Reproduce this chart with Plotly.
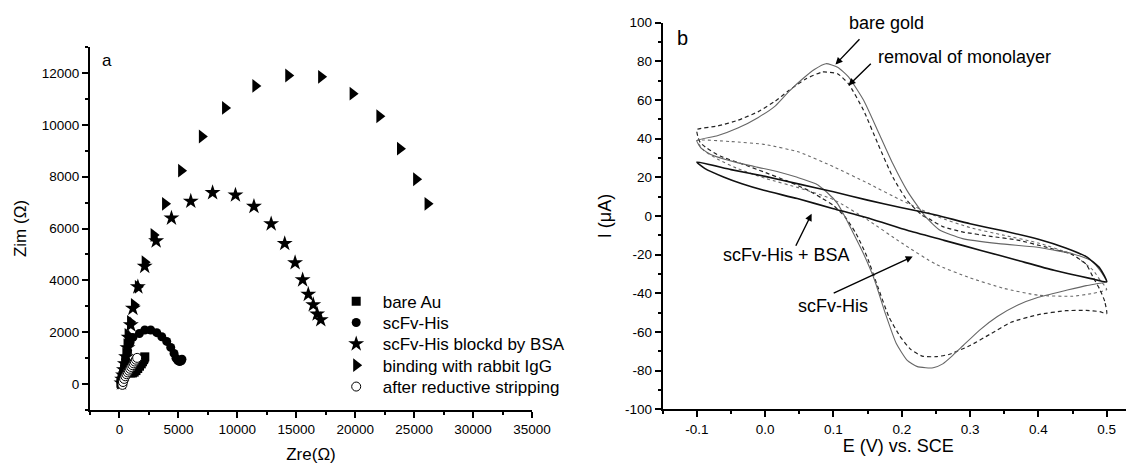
import plotly.graph_objects as go

# ---------------- Panel a: Nyquist plot ----------------
bare_au_x = [120, 160, 220, 300, 400, 520, 650, 800, 950, 1100, 1250, 1400, 1550, 1700, 1850, 1950, 2050, 2100, 2150]
bare_au_y = [30, 120, 230, 330, 400, 440, 450, 440, 430, 430, 460, 520, 600, 690, 780, 860, 940, 1000, 1050]

scfv_x = [150, 200, 260, 330, 420, 520, 690, 900, 1140, 1690, 2150, 2650, 3165, 3590, 4010, 4350, 4630, 4800, 4950, 5100, 5250, 5300]
scfv_y = [50, 150, 300, 480, 700, 950, 1290, 1600, 1800, 1950, 2086, 2086, 1982, 1827, 1646, 1414, 1182, 1000, 910, 870, 900, 960]

bsa_x = [170, 230, 300, 380, 460, 560, 680, 780, 960, 1140, 1560, 2140, 3110, 4410, 6050, 7900, 9840, 11410, 12870, 14020, 14900, 15540, 16020, 16440, 16770, 17080]
bsa_y = [40, 180, 350, 550, 780, 1050, 1400, 1800, 2280, 2920, 3750, 4540, 5520, 6400, 7050, 7380, 7290, 6850, 6180, 5420, 4680, 4020, 3460, 3060, 2700, 2480]

igg_x = [150, 200, 260, 330, 410, 500, 600, 690, 900, 1230, 1560, 2140, 2900, 3870, 5230, 6990, 8960, 11530, 14320, 17110, 19780, 22050, 23800, 25170, 26140]
igg_y = [60, 200, 380, 600, 850, 1150, 1500, 1900, 2400, 3050, 3750, 4700, 5750, 6950, 8230, 9550, 10650, 11500, 11900, 11850, 11200, 10330, 9080, 7900, 6950]

strip_x = [250, 300, 400, 500, 600, 700, 800, 900, 1000, 1100, 1200, 1300, 1400, 1500]
strip_y = [-30, 80, 200, 300, 380, 450, 520, 590, 660, 730, 800, 870, 940, 1010]

# ---------------- Panel b: cyclic voltammograms ----------------
gold_E_cath = [0.5, 0.49, 0.477, 0.45, 0.42, 0.396, 0.342, 0.289, 0.256, 0.235, 0.224, 0.208, 0.187, 0.165, 0.144, 0.122, 0.106, 0.089, 0.072, 0.055, 0.035, 0.015, -0.01, -0.04, -0.07, -0.1]
gold_I_cath = [-34, -28, -23, -19.5, -17.5, -16, -14.3, -11.7, -7.4, -0.5, 4.7, 13, 27, 44, 60, 72, 77, 78.8, 75.8, 71, 64.5, 57, 51, 45.5, 41.5, 39]
gold_E_anod = [-0.1, -0.093, -0.077, -0.045, -0.012, 0.02, 0.047, 0.074, 0.09, 0.106, 0.117, 0.127, 0.144, 0.16, 0.176, 0.192, 0.208, 0.222, 0.235, 0.246, 0.26, 0.275, 0.29, 0.314, 0.34, 0.37, 0.4, 0.44, 0.47, 0.49, 0.5]
gold_I_anod = [39, 34.8, 31.4, 28, 25.3, 22.8, 20, 16.7, 12.4, 6.4, -0.5, -7.4, -19.5, -33, -50.5, -66, -74.7, -77.8, -78.5, -78.5, -76.5, -72, -67, -59, -52, -46, -42, -38.5, -36, -34.8, -34]

rem_E_cath = [0.5, 0.497, 0.49, 0.48, 0.47, 0.45, 0.41, 0.37, 0.33, 0.29, 0.26, 0.24, 0.23, 0.208, 0.187, 0.165, 0.144, 0.122, 0.106, 0.084, 0.06, 0.035, 0.015, -0.01, -0.04, -0.07, -0.1]
rem_I_cath = [-50.5, -44, -38, -31.6, -25, -20, -16, -12.5, -10.5, -8.3, -5.5, -1.5, 0.3, 8, 20, 37.4, 54.7, 68.4, 73.6, 74.5, 71, 65, 59.5, 54, 49.5, 46.5, 44.7]
rem_E_anod = [-0.1, -0.098, -0.095, -0.085, -0.066, -0.034, -0.002, 0.03, 0.063, 0.084, 0.1, 0.117, 0.133, 0.149, 0.165, 0.181, 0.197, 0.213, 0.23, 0.25, 0.27, 0.3, 0.33, 0.36, 0.4, 0.44, 0.47, 0.49, 0.5]
rem_I_anod = [44.7, 40.5, 38, 35, 31, 27, 22.8, 18.4, 13.3, 9, 5.5, -0.5, -9, -21, -36.7, -52, -62, -69, -72.5, -72.8, -71.5, -67, -61, -55, -51, -49, -48.8, -49.5, -50.5]

his_E_cath = [0.5, 0.49, 0.48, 0.45, 0.4, 0.35, 0.3, 0.25, 0.2, 0.15, 0.1, 0.05, 0.0, -0.05, -0.1]
his_I_cath = [-38, -33, -28, -20, -14, -10, -6, 0, 8, 17, 25.5, 33, 37, 38.5, 39]
his_E_anod = [-0.1, -0.09, -0.07, -0.04, 0.0, 0.05, 0.1, 0.15, 0.2, 0.25, 0.3, 0.35, 0.4, 0.45, 0.48, 0.5]
his_I_anod = [39, 34, 29.5, 24.5, 19.5, 14.5, 8.5, -2, -14, -25, -32, -37.5, -41, -41.5, -40, -38]

bsa_E_cath = [0.5, 0.49, 0.47, 0.44, 0.4, 0.35, 0.3, 0.25, 0.2, 0.15, 0.1, 0.05, 0.0, -0.05, -0.1]
bsa_I_cath = [-34, -27, -21, -16.5, -12, -7.8, -4, 0.5, 4.3, 8.2, 12.5, 16.5, 20.5, 24, 27.9]
bsa_E_anod = [-0.1, -0.088, -0.061, -0.034, -0.002, 0.047, 0.1, 0.154, 0.208, 0.262, 0.316, 0.369, 0.423, 0.477, 0.5]
bsa_I_anod = [27.9, 24.5, 20.2, 16.7, 13.3, 9, 3.8, -1.4, -7.4, -12.6, -17.8, -22.9, -28.1, -32.4, -34]

# tick labels for panel b (plain hyphen minus, as in the original)
e_tick_vals = [-0.1, 0.0, 0.1, 0.2, 0.3, 0.4, 0.5]
e_tick_text = ["-0.1", "0.0", "0.1", "0.2", "0.3", "0.4", "0.5"]
i_tick_vals = [-100, -80, -60, -40, -20, 0, 20, 40, 60, 80, 100]
i_tick_text = ["-100", "-80", "-60", "-40", "-20", "0", "20", "40", "60", "80", "100"]

FONT = "Liberation Sans, Arial, sans-serif"

# page has an 8px body margin: figure is drawn from screen pixel 8
OFF = 8
W, H = 1134 - OFF, 466 - OFF
def px_x(p): return (p - OFF) / W
def px_y(p): return 1 - (p - OFF) / H

fig = go.Figure()

def marker(symbol, size, color="black", lw=0):
    return dict(symbol=symbol, size=size, color=color, line=dict(color="black", width=lw))

series = [
    (bare_au_x, bare_au_y, "bare Au", marker("square", 9)),
    (scfv_x, scfv_y, "scFv-His", marker("circle", 9)),
    (bsa_x, bsa_y, "scFv-His blockd by BSA", marker("star", 12)),
    (igg_x, igg_y, "binding with rabbit IgG", marker("triangle-right", 12)),
    (strip_x, strip_y, "after reductive stripping", marker("circle", 9, color="white", lw=1)),
]
legend_rows = [301.7, 323.0, 344.3, 365.6, 387.0]
ITEMW = 43
legend_layout = {}
for k, ((xs, ys, name, mk), row) in enumerate(zip(series, legend_rows)):
    lname = "legend" if k == 0 else f"legend{k + 1}"
    fig.add_trace(go.Scatter(x=xs, y=ys, mode="markers", name=name, marker=mk,
                             xaxis="x", yaxis="y", legend=lname))
    legend_layout[lname] = dict(x=px_x(382.7 - ITEMW - 10), y=px_y(row), xanchor="left", yanchor="middle",
                                bgcolor="rgba(0,0,0,0)", borderwidth=0, itemwidth=ITEMW,
                                font=dict(family=FONT, size=17, color="black"))

def loop(a_E, a_I, b_E, b_I):
    return a_E + b_E[1:], a_I + b_I[1:]

for (eA, iA, eB, iB), style in [
    ((his_E_cath, his_I_cath, his_E_anod, his_I_anod), dict(color="#6a6a6a", width=1.1, dash="dot")),
    ((rem_E_cath, rem_I_cath, rem_E_anod, rem_I_anod), dict(color="#222222", width=1.2, dash="4px,3px")),
    ((gold_E_cath, gold_I_cath, gold_E_anod, gold_I_anod), dict(color="#666666", width=1.1)),
    ((bsa_E_cath, bsa_I_cath, bsa_E_anod, bsa_I_anod), dict(color="#111111", width=1.6)),
]:
    ex, iy = loop(eA, iA, eB, iB)
    fig.add_trace(go.Scatter(x=ex, y=iy, mode="lines", line=dict(shape="spline", smoothing=0.5, **style),
                             showlegend=False, xaxis="x2", yaxis="y2"))

axis_common = dict(showline=True, linecolor="black", linewidth=2, ticks="outside", ticklen=6,
                   tickwidth=1.5, tickcolor="black", showgrid=False, zeroline=False,
                   exponentformat="none", separatethousands=False,
                   tickfont=dict(family=FONT, size=13.5, color="black"))
minor_common = dict(ticklen=3, tickwidth=1.5, tickcolor="black", ticks="outside")

fig.update_layout(
    width=W, height=H, margin=dict(l=0, r=0, t=0, b=0),
    paper_bgcolor="white", plot_bgcolor="white",
    font=dict(family=FONT, color="black"),
    xaxis=dict(domain=[px_x(90), px_x(532)], range=[-2500, 35000], tick0=0, dtick=5000, tickformat="d",
               minor=dict(dtick=2500, **minor_common),
               title=dict(text="Zre(Ω)", font=dict(family=FONT, size=17), standoff=12),
               anchor="y", automargin=False, **axis_common),
    yaxis=dict(domain=[px_y(410), px_y(47)], range=[-1000, 13000], tick0=0, dtick=2000, tickformat="d",
               minor=dict(dtick=1000, **minor_common),
               title=dict(text="Zim (Ω)", font=dict(family=FONT, size=17), standoff=11),
               anchor="x", automargin=False, **axis_common),
    xaxis2=dict(domain=[px_x(662.7), 1.0], range=[-0.15, 0.54], tickmode="array",
                tickvals=e_tick_vals, ticktext=e_tick_text,
                minor=dict(dtick=0.05, tick0=-0.15, **minor_common),
                title=dict(text="E (V) vs. SCE", font=dict(family=FONT, size=18), standoff=4),
                anchor="y2", automargin=False, **axis_common),
    yaxis2=dict(domain=[px_y(409.3), px_y(22.7)], range=[-100, 100], tickmode="array",
                tickvals=i_tick_vals, ticktext=i_tick_text,
                minor=dict(dtick=10, tick0=0, **minor_common),
                title=dict(text="I (μA)", font=dict(family=FONT, size=18), standoff=9),
                anchor="x2", automargin=False, **axis_common),
    showlegend=True,
    **legend_layout,
)

annotations = [
    dict(text="a", x=-1018, y=12490, xref="x", yref="y", showarrow=False,
         font=dict(family=FONT, size=17), xanchor="center", yanchor="middle"),
    dict(text="b", x=-0.121, y=92.1, xref="x2", yref="y2", showarrow=False,
         font=dict(family=FONT, size=20), xanchor="center", yanchor="middle"),
    dict(text="bare gold", x=0.177, y=99.7, xref="x2", yref="y2", showarrow=False,
         font=dict(family=FONT, size=18), xanchor="center", yanchor="middle"),
    dict(text="removal of monolayer", x=0.292, y=82.2, xref="x2", yref="y2", showarrow=False,
         font=dict(family=FONT, size=18), xanchor="center", yanchor="middle"),
    dict(text="scFv-His + BSA", x=0.031, y=-20.4, xref="x2", yref="y2", showarrow=False,
         font=dict(family=FONT, size=18), xanchor="center", yanchor="middle"),
    dict(text="scFv-His", x=0.100, y=-46.8, xref="x2", yref="y2", showarrow=False,
         font=dict(family=FONT, size=18), xanchor="center", yanchor="middle"),
]
arrows = [
    (0.103, 78.4, 25.4, -26.7),
    (0.122, 67.5, 23.8, -23.3),
    (0.068, 1.1, -16.5, 33.4),
    (0.216, -21.0, -80.5, 37.3),
]
for x, y, ax, ay in arrows:
    annotations.append(dict(x=x, y=y, xref="x2", yref="y2", ax=ax, ay=ay, axref="pixel", ayref="pixel",
                            showarrow=True, arrowhead=2, arrowsize=1, arrowwidth=1.4, arrowcolor="black",
                            text=""))
fig.update_layout(annotations=annotations)

fig.write_html("out.html")
